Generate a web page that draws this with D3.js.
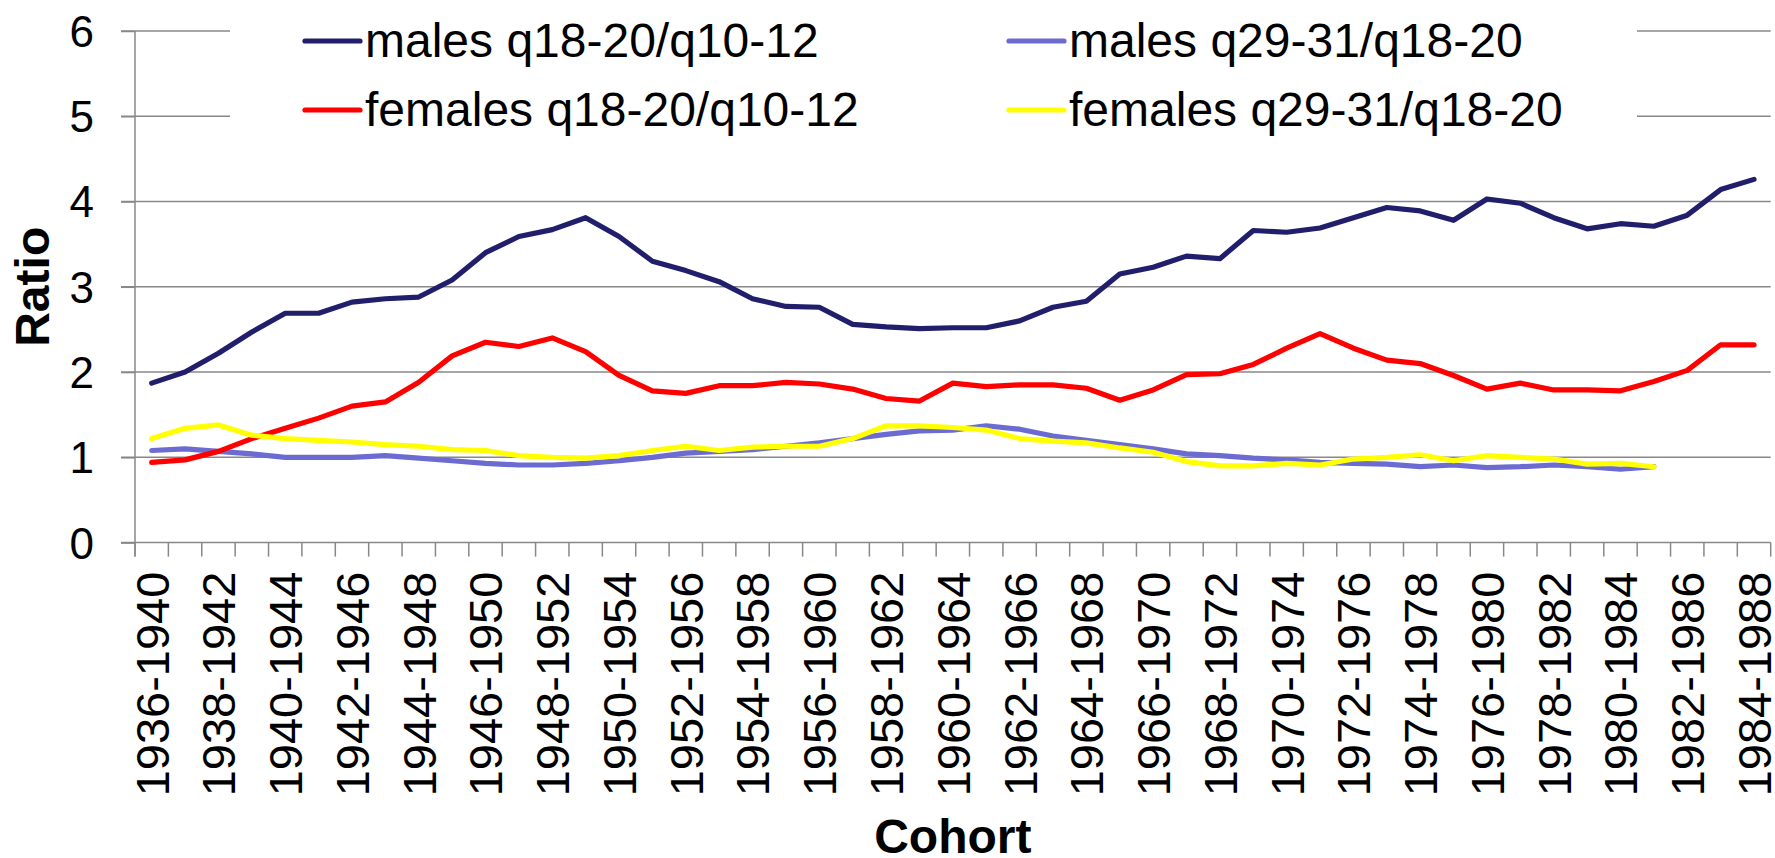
<!DOCTYPE html>
<html>
<head>
<meta charset="utf-8">
<script src="https://cdn.jsdelivr.net/npm/d3@7/dist/d3.min.js"></script>
<style>
  html, body { margin: 0; padding: 0; background: #fff; }
  svg { display: block; font-family: "Liberation Sans", Arial, sans-serif; }
</style>
</head>
<body>
<svg id="chart" width="1775" height="858"></svg>
<script>
const categories = ["1936-1940","1937-1941","1938-1942","1939-1943","1940-1944","1941-1945","1942-1946","1943-1947","1944-1948","1945-1949",
  "1946-1950","1947-1951","1948-1952","1949-1953","1950-1954","1951-1955","1952-1956","1953-1957","1954-1958","1955-1959",
  "1956-1960","1957-1961","1958-1962","1959-1963","1960-1964","1961-1965","1962-1966","1963-1967","1964-1968","1965-1969",
  "1966-1970","1967-1971","1968-1972","1969-1973","1970-1974","1971-1975","1972-1976","1973-1977","1974-1978","1975-1979",
  "1976-1980","1977-1981","1978-1982","1979-1983","1980-1984","1981-1985","1982-1986","1983-1987","1984-1988"];

const malesYoung = [1.87, 2.00, 2.22, 2.47, 2.69, 2.69, 2.82, 2.86, 2.88, 3.08, 3.40, 3.59, 3.67, 3.81, 3.59, 3.30, 3.19, 3.06, 2.86, 2.77,
  2.76, 2.56, 2.53, 2.51, 2.52, 2.52, 2.60, 2.76, 2.83, 3.15, 3.23, 3.36, 3.33, 3.66, 3.64, 3.69, 3.81, 3.93, 3.89, 3.78,
  4.03, 3.98, 3.81, 3.68, 3.74, 3.71, 3.84, 4.14, 4.26];
const malesOld = [1.08, 1.10, 1.07, 1.04, 1.00, 1.00, 1.00, 1.02, 0.99, 0.96, 0.93, 0.91, 0.91, 0.93, 0.96, 1.00, 1.05, 1.07, 1.09, 1.13,
  1.17, 1.22, 1.27, 1.31, 1.32, 1.37, 1.33, 1.25, 1.20, 1.15, 1.10, 1.04, 1.02, 0.99, 0.97, 0.94, 0.93, 0.92, 0.89, 0.91,
  0.88, 0.89, 0.91, 0.89, 0.86, 0.89];
const femalesYoung = [0.94, 0.97, 1.07, 1.22, 1.34, 1.46, 1.60, 1.65, 1.88, 2.19, 2.35, 2.30, 2.40, 2.24, 1.96, 1.78, 1.75, 1.84, 1.84, 1.88,
  1.86, 1.80, 1.69, 1.66, 1.87, 1.83, 1.85, 1.85, 1.81, 1.67, 1.79, 1.97, 1.98, 2.09, 2.28, 2.45, 2.28, 2.14, 2.10, 1.96,
  1.80, 1.87, 1.79, 1.79, 1.78, 1.89, 2.02, 2.32, 2.32];
const femalesOld = [1.22, 1.34, 1.38, 1.26, 1.22, 1.20, 1.18, 1.15, 1.13, 1.09, 1.08, 1.02, 1.00, 0.99, 1.02, 1.08, 1.13, 1.08, 1.12, 1.13,
  1.13, 1.22, 1.37, 1.37, 1.35, 1.32, 1.22, 1.19, 1.17, 1.11, 1.06, 0.95, 0.90, 0.90, 0.93, 0.91, 0.98, 1.00, 1.03, 0.96,
  1.02, 1.00, 0.98, 0.92, 0.93, 0.89];

const seriesNames = ["males q18-20/q10-12", "males q29-31/q18-20", "females q18-20/q10-12", "females q29-31/q18-20"];
const seriesColors = ["#211e6c", "#6b6bd2", "#ff0000", "#ffff00"];
const yTicks = [0, 1, 2, 3, 4, 5, 6];
const xLabelEvery = 2;
const yTitle = "Ratio";
const xTitle = "Cohort";

const seriesData = [malesYoung, malesOld, femalesYoung, femalesOld];

(function () {
const svg = d3.select("#chart");
const pL = 135, pR = 1770.7, pT = 31, pB = 542.6;
const grey = "#888888";

const x = d3.scaleBand().domain(categories).range([pL, pR]).padding(0);
const y = d3.scaleLinear().domain([0, 6]).range([pB, pT]);
const cx = c => x(c) + x.bandwidth() / 2;

// gridlines
svg.append("g").selectAll("line").data(yTicks.filter(t => t > 0)).join("line")
  .attr("x1", pL - 14).attr("x2", pR)
  .attr("y1", d => y(d)).attr("y2", d => y(d))
  .attr("stroke", grey).attr("stroke-width", 1.5);

// y axis
const yAxis = svg.append("g").attr("transform", `translate(${pL},0)`)
  .call(d3.axisLeft(y).tickValues(yTicks).tickSize(14).tickFormat(d3.format("d")));
yAxis.select(".domain").remove();
yAxis.selectAll(".tick line").attr("stroke", grey).attr("stroke-width", 1.5);
yAxis.selectAll(".tick text").attr("font-size", 44).attr("fill", "#000")
  .attr("font-family", "Liberation Sans, Arial, sans-serif").attr("x", -41).attr("dy", "0.35em");
svg.append("line").attr("x1", pL).attr("x2", pL).attr("y1", pT).attr("y2", pB + 14)
  .attr("stroke", grey).attr("stroke-width", 1.5);

// x axis line and boundary ticks
svg.append("line").attr("x1", pL - 14).attr("x2", pR).attr("y1", pB).attr("y2", pB)
  .attr("stroke", grey).attr("stroke-width", 1.5);
const bounds = categories.map(c => x(c)).concat([pR]);
svg.append("g").selectAll("line").data(bounds).join("line")
  .attr("x1", d => d).attr("x2", d => d).attr("y1", pB).attr("y2", pB + 14)
  .attr("stroke", grey).attr("stroke-width", 1.5);

// x labels
const xAxis = svg.append("g").attr("transform", `translate(0,${pB})`)
  .call(d3.axisBottom(x).tickValues(categories.filter((c, i) => i % xLabelEvery === 0)).tickSize(0));
xAxis.select(".domain").remove();
xAxis.selectAll(".tick text")
  .attr("font-size", 47).attr("fill", "#000")
  .attr("font-family", "Liberation Sans, Arial, sans-serif")
  .attr("text-anchor", "end")
  .attr("transform", "rotate(-90)")
  .attr("x", -29).attr("y", 0).attr("dy", "0.36em");

// legend background
svg.append("rect").attr("x", 230).attr("y", 4).attr("width", 1637 - 230).attr("height", 140).attr("fill", "#fff");

// lines
const line = d3.line().x((d, i) => cx(categories[i])).y(d => y(d)).curve(d3.curveLinear);
svg.append("g").selectAll("path").data(seriesData).join("path")
  .attr("d", d => line(d))
  .attr("fill", "none")
  .attr("stroke", (d, i) => seriesColors[i])
  .attr("stroke-width", 5.2)
  .attr("stroke-linejoin", "round")
  .attr("stroke-linecap", "round");

// legend
const legendPos = [[305, 41], [1009, 41], [305, 110], [1009, 110]];
const lg = svg.append("g").selectAll("g").data(seriesNames).join("g")
  .attr("transform", (d, i) => `translate(${legendPos[i][0]},${legendPos[i][1]})`);
lg.append("line").attr("x1", 0).attr("x2", 55).attr("y1", 0).attr("y2", 0)
  .attr("stroke", (d, i) => seriesColors[i]).attr("stroke-width", 5.2).attr("stroke-linecap", "round");
lg.append("text").attr("x", 60).attr("y", 16).attr("font-size", 48).attr("fill", "#000").text(d => d);

// titles
svg.append("text").attr("transform", `translate(49,${(pT + pB) / 2}) rotate(-90)`)
  .attr("text-anchor", "middle").attr("font-size", 48).attr("font-weight", "bold").text(yTitle);
svg.append("text").attr("x", (pL + pR) / 2).attr("y", 853)
  .attr("text-anchor", "middle").attr("font-size", 48).attr("font-weight", "bold").text(xTitle);
})();
</script>
</body>
</html>
